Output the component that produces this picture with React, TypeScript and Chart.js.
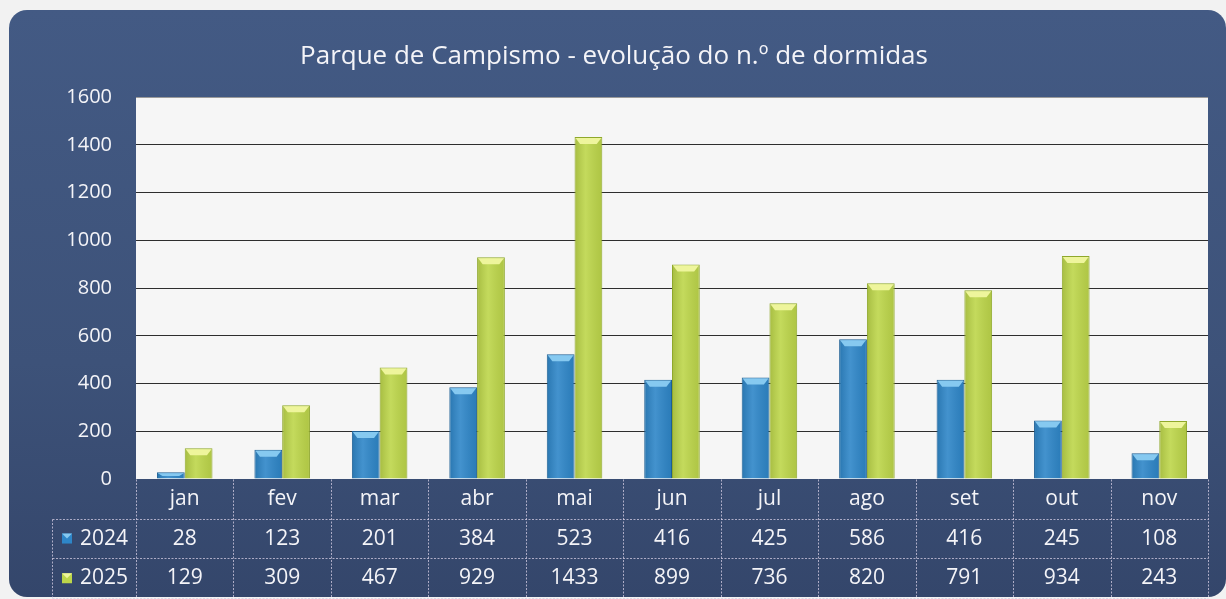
import React, { useEffect, useRef } from "react";
import { Chart, registerables } from "chart.js";

Chart.register(...registerables);

const titleText = "Parque de Campismo - evolução do n.º de dormidas";
const categories = ["jan", "fev", "mar", "abr", "mai", "jun", "jul", "ago", "set", "out", "nov"];
const seriesLabels = ["2024", "2025"];
const values2024 = [28, 123, 201, 384, 523, 416, 425, 586, 416, 245, 108];
const values2025 = [129, 309, 467, 929, 1433, 899, 736, 820, 791, 934, 243];
const yMin = 0;
const yMax = 1600;
const yStep = 200;

const FONT = "'Open Sans', 'Noto Sans', sans-serif";
const TEXT = "#f4f4f8";
const fills = ["#2e86c8", "#bdd64a"];
const edges = ["#1d5f94", "#8fa82c"];
const highlights = ["#86c9f0", "#eef59c"];

const plotBgPlugin = {
  id: "plotBg",
  beforeDraw(chart: any) {
    const { ctx, chartArea } = chart;
    ctx.save();
    ctx.fillStyle = "#f6f6f6";
    ctx.fillRect(chartArea.left, chartArea.top, chartArea.right - chartArea.left, chartArea.bottom - chartArea.top);
    ctx.restore();
  },
};

const barLookPlugin = {
  id: "barLook",
  afterDatasetsDraw(chart: any) {
    const ctx = chart.ctx;
    chart.data.datasets.forEach((ds: any, di: number) => {
      const meta = chart.getDatasetMeta(di);
      meta.data.forEach((bar: any) => {
        const w = bar.width;
        const left = bar.x - w / 2;
        const right = bar.x + w / 2;
        const top = Math.min(bar.y, bar.base);
        const h = Math.abs(bar.base - bar.y);
        if (h <= 0) return;
        ctx.save();
        const g = ctx.createLinearGradient(left, 0, right, 0);
        g.addColorStop(0, "rgba(0,0,0,0.12)");
        g.addColorStop(0.4, "rgba(255,255,255,0.10)");
        g.addColorStop(1, "rgba(0,0,0,0.08)");
        ctx.fillStyle = g;
        ctx.fillRect(left + 1, top + 1, w - 2, h - 1);
        const hb = Math.min(7, h * 0.6);
        ctx.beginPath();
        ctx.moveTo(left + 1, top + 1);
        ctx.lineTo(right - 1, top + 1);
        ctx.lineTo(right - w * 0.2, top + hb);
        ctx.lineTo(left + w * 0.2, top + hb);
        ctx.closePath();
        ctx.fillStyle = highlights[di];
        ctx.fill();
        ctx.restore();
      });
    });
  },
};

const dataTablePlugin = {
  id: "dataTable",
  afterDraw(chart: any) {
    const { ctx, chartArea } = chart;
    const xScale = chart.scales.x;
    const n = categories.length;
    const cw = (chartArea.right - chartArea.left) / n;
    const rowH = 39.7;
    const top = chartArea.bottom;
    const legendLeft = 52;
    const r1 = top + rowH;
    const r2 = top + rowH * 2;
    const r3 = top + rowH * 3;
    ctx.save();
    ctx.strokeStyle = "rgba(214,206,228,0.75)";
    ctx.lineWidth = 1;
    ctx.setLineDash([2, 1.5]);
    const line = (x1: number, y1: number, x2: number, y2: number) => {
      ctx.beginPath();
      ctx.moveTo(Math.round(x1) + 0.5, Math.round(y1) + 0.5);
      ctx.lineTo(Math.round(x2) + 0.5, Math.round(y2) + 0.5);
      ctx.stroke();
    };
    line(legendLeft, r1, chartArea.right, r1);
    line(legendLeft, r2, chartArea.right, r2);
    line(legendLeft, r3, chartArea.right, r3);
    line(legendLeft, r1, legendLeft, r3);
    for (let i = 0; i <= n; i++) {
      const x = chartArea.left + i * cw;
      line(x, top, x, r3);
    }
    ctx.setLineDash([]);

    ctx.fillStyle = TEXT;
    ctx.font = `21px ${FONT}`;
    ctx.textAlign = "center";
    ctx.textBaseline = "middle";
    categories.forEach((c, i) => {
      const x = xScale.getPixelForValue(i);
      ctx.fillText(c, x, top + rowH / 2);
      ctx.fillText(String(values2024[i]), x, r1 + rowH / 2);
      ctx.fillText(String(values2025[i]), x, r2 + rowH / 2);
    });

    [r1, r2].forEach((ry, si) => {
      const cy = ry + rowH / 2;
      const kx = 62;
      const ks = 10;
      ctx.fillStyle = fills[si];
      ctx.fillRect(kx, cy - ks / 2, ks, ks);
      ctx.beginPath();
      ctx.moveTo(kx, cy - ks / 2);
      ctx.lineTo(kx + ks, cy - ks / 2);
      ctx.lineTo(kx + ks / 2, cy);
      ctx.closePath();
      ctx.fillStyle = highlights[si];
      ctx.fill();
      ctx.fillStyle = TEXT;
      ctx.textAlign = "left";
      ctx.fillText(seriesLabels[si], 80, cy);
    });
    ctx.restore();
  },
};

export default function App() {
  const canvasRef = useRef<HTMLCanvasElement | null>(null);

  useEffect(() => {
    if (!canvasRef.current) return;
    const chart = new Chart(canvasRef.current, {
      type: "bar",
      data: {
        labels: categories,
        datasets: [
          {
            label: seriesLabels[0],
            data: values2024,
            backgroundColor: fills[0],
            borderColor: edges[0],
            borderWidth: 1,
            categoryPercentage: 0.57,
            barPercentage: 1.0,
          },
          {
            label: seriesLabels[1],
            data: values2025,
            backgroundColor: fills[1],
            borderColor: edges[1],
            borderWidth: 1,
            categoryPercentage: 0.57,
            barPercentage: 1.0,
          },
        ],
      },
      options: {
        responsive: false,
        animation: false,
        layout: { padding: { top: 39, right: 18, bottom: 120, left: 20 } },
        plugins: {
          legend: { display: false },
          tooltip: { enabled: false },
          title: {
            display: true,
            text: titleText,
            color: TEXT,
            font: { family: FONT, size: 26, weight: "normal", lineHeight: 1.2 },
            padding: { top: 2, bottom: 25 },
          },
        },
        scales: {
          x: {
            display: false,
          },
          y: {
            min: yMin,
            max: yMax,
            ticks: {
              stepSize: yStep,
              color: TEXT,
              padding: 24,
              font: { family: FONT, size: 20 },
              callback: (v: any) => String(v),
            },
            grid: {
              drawTicks: false,
              color: (c: any) => (c.tick && c.tick.value === yMin ? "rgba(0,0,0,0)" : c.tick && c.tick.value === yMax ? "#9a9a9a" : "#2e2e2e"),
              lineWidth: 1,
            },
            border: { display: false },
            afterFit: (scale: any) => {
              scale.width = 116;
            },
          },
        },
      },
      plugins: [plotBgPlugin, barLookPlugin, dataTablePlugin],
    });
    return () => chart.destroy();
  }, []);

  return (
    <div style={{ position: "fixed", left: 0, top: 0, width: 1226, height: 599, background: "#f2f2f2", overflow: "hidden" }}>
      <div
        style={{
          position: "absolute",
          left: 9,
          top: 10,
          width: 1217,
          height: 587,
          borderRadius: 18,
          background: "linear-gradient(180deg, #435a84 0%, #3d5279 60%, #34466b 100%)",
        }}
      />
      <canvas ref={canvasRef} width={1226} height={599} style={{ position: "absolute", left: 0, top: 0 }} />
    </div>
  );
}
